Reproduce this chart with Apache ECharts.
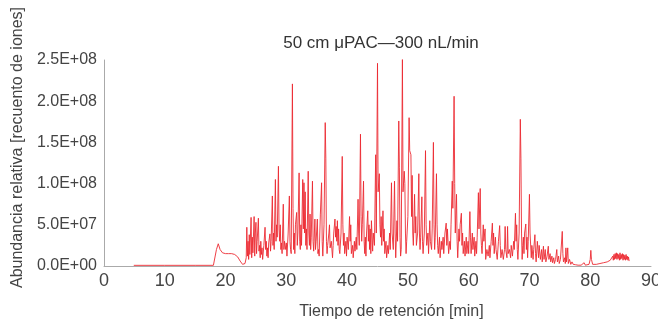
<!DOCTYPE html>
<html>
<head>
<meta charset="utf-8">
<script src="https://cdn.jsdelivr.net/npm/echarts@6/dist/echarts.min.js"></script>
<style>
  html, body { margin: 0; padding: 0; background: #fff; }
  #chart { width: 658px; height: 320px; }
</style>
</head>
<body>
<div id="chart"></div>
<script>
// retention time [min]
const times = [
  4.9, 10.0, 15.0, 18.0, 18.2, 18.5, 18.8, 19.1, 19.5, 20.0, 20.5, 21.0, 21.5, 22.0, 22.4, 22.8, 23.0, 23.2, 23.4,
  23.5, 23.6, 23.7, 23.8, 23.9, 24.0, 24.2, 24.3, 24.4, 24.5, 24.7, 24.8, 24.9, 25.0, 25.1, 25.2, 25.4, 25.5, 25.6, 25.7,
  25.8, 25.9, 26.0, 26.1, 26.3, 26.5, 26.6, 26.7, 26.8, 26.9, 27.0, 27.1, 27.3, 27.4, 27.5, 27.7, 27.8, 27.9, 28.0, 28.2,
  28.3, 28.4, 28.5, 28.7, 28.8, 28.9, 29.0, 29.1, 29.2, 29.3, 29.5, 29.6, 29.7, 29.9, 30.0, 30.1, 30.3, 30.5, 30.6, 30.7,
  30.8, 31.0, 31.1, 31.2, 31.3, 31.4, 31.5, 31.7, 31.8, 31.9, 32.1, 32.2, 32.3, 32.4, 32.5, 32.7, 32.8, 32.9, 33.0, 33.1,
  33.2, 33.3, 33.4, 33.6, 33.7, 33.8, 33.9, 34.0, 34.1, 34.3, 34.4, 34.5, 34.7, 34.8, 34.9, 35.1, 35.2, 35.3, 35.4, 35.6,
  35.8, 35.9, 36.0, 36.2, 36.4, 36.5, 36.6, 36.7, 36.8, 37.0, 37.1, 37.2, 37.4, 37.6, 37.7, 37.8, 38.0, 38.1, 38.2, 38.3,
  38.4, 38.5, 38.6, 38.7, 38.8, 39.0, 39.2, 39.3, 39.4, 39.5, 39.6, 39.8, 39.9, 40.0, 40.2, 40.4, 40.5, 40.6, 40.7, 40.9,
  41.0, 41.2, 41.3, 41.5, 41.6, 41.8, 41.9, 42.0, 42.2, 42.3, 42.4, 42.5, 42.7, 42.8, 42.9, 43.0, 43.1, 43.2, 43.4, 43.5,
  43.6, 43.7, 43.8, 43.9, 44.0, 44.2, 44.3, 44.5, 44.7, 44.8, 45.0, 45.1, 45.3, 45.4, 45.5, 45.6, 45.7, 45.9, 46.0, 46.1,
  46.2, 46.4, 46.5, 46.7, 46.8, 47.0, 47.1, 47.3, 47.4, 47.6, 47.8, 47.9, 48.0, 48.2, 48.3, 48.5, 48.6, 48.7, 48.8, 48.9,
  49.1, 49.2, 49.4, 49.5, 49.6, 49.7, 49.8, 50.0, 50.2, 50.3, 50.5, 50.6, 50.7, 50.8, 50.9, 51.1, 51.2, 51.3, 51.4, 51.6,
  51.8, 51.9, 52.0, 52.1, 52.3, 52.4, 52.5, 52.7, 52.9, 53.0, 53.1, 53.3, 53.4, 53.6, 53.7, 53.9, 54.0, 54.2, 54.3, 54.4,
  54.5, 54.7, 54.8, 54.9, 55.0, 55.2, 55.3, 55.5, 55.6, 55.8, 55.9, 56.1, 56.3, 56.4, 56.5, 56.7, 56.9, 57.0, 57.1, 57.3,
  57.4, 57.6, 57.7, 57.8, 58.0, 58.1, 58.2, 58.4, 58.5, 58.6, 58.8, 58.9, 59.0, 59.1, 59.3, 59.4, 59.6, 59.7, 59.9, 60.0,
  60.2, 60.3, 60.4, 60.6, 60.7, 60.9, 61.0, 61.2, 61.3, 61.4, 61.6, 61.7, 61.9, 62.0, 62.1, 62.2, 62.4, 62.5, 62.7, 62.8,
  63.0, 63.2, 63.4, 63.5, 63.7, 63.9, 64.0, 64.1, 64.2, 64.4, 64.5, 64.7, 64.9, 65.1, 65.2, 65.3, 65.5, 65.7, 65.9, 66.0,
  66.1, 66.3, 66.4, 66.5, 66.7, 66.9, 67.0, 67.2, 67.4, 67.5, 67.7, 67.8, 67.9, 68.0, 68.1, 68.3, 68.5, 68.6, 68.7, 68.8,
  68.9, 69.0, 69.1, 69.2, 69.4, 69.5, 69.6, 69.7, 69.8, 70.0, 70.1, 70.3, 70.4, 70.6, 70.7, 70.9, 71.0, 71.1, 71.3, 71.5,
  71.6, 71.8, 72.0, 72.1, 72.3, 72.4, 72.6, 72.7, 72.9, 73.1, 73.2, 73.4, 73.5, 73.7, 73.8, 74.0, 74.1, 74.3, 74.5, 74.6,
  74.8, 74.9, 75.1, 75.4, 75.5, 75.6, 75.8, 75.9, 76.0, 76.1, 76.3, 76.4, 76.6, 76.8, 77.0, 77.2, 77.4, 77.6, 77.8, 78.0,
  78.3, 78.5, 78.8, 79.0, 79.2, 79.5, 79.8, 80.0, 80.1, 80.2, 80.4, 80.7, 81.0, 81.3, 81.6, 81.9, 82.2, 82.5, 82.8, 83.0,
  83.3, 83.5, 83.7, 83.8, 83.9, 84.0, 84.1, 84.2, 84.3, 84.4, 84.5, 84.6, 84.7, 84.8, 84.9, 85.0, 85.1, 85.2, 85.3, 85.4,
  85.5, 85.6, 85.7, 85.8, 85.9, 86.0, 86.1, 86.2, 86.3, 86.4
];

// abundance in millions of ion counts (x 1E+06)
const abundance = [
  0.8, 0.8, 0.8, 0.8, 2, 20, 27, 20, 16, 15, 15, 15, 14, 11, 6, 2, 1, 3, 10,
  47, 12, 30, 8, 38, 14, 59, 10, 35, 16, 60, 12, 40, 53, 15, 30, 58, 18, 25, 10,
  30, 14, 22, 8, 25, 47, 20, 30, 12, 22, 10, 28, 39, 18, 30, 85, 25, 40, 20, 105,
  30, 50, 35, 121, 45, 30, 50, 20, 28, 15, 75, 20, 30, 20, 28, 12, 40, 85, 30, 20,
  15, 221, 70, 20, 40, 15, 50, 65, 25, 40, 113, 30, 20, 50, 25, 105, 45, 101, 40, 90,
  25, 45, 20, 115, 40, 25, 63, 20, 35, 103, 30, 18, 57, 20, 30, 57, 15, 20, 12, 63,
  101, 30, 12, 50, 174, 130, 30, 15, 25, 40, 50, 22, 30, 10, 25, 40, 57, 35, 48, 30,
  55, 25, 45, 20, 15, 40, 133, 50, 25, 40, 15, 30, 12, 35, 20, 60, 30, 50, 15, 25,
  10, 30, 18, 35, 20, 81, 40, 25, 160, 60, 30, 50, 103, 30, 15, 35, 12, 40, 67, 30,
  50, 20, 45, 15, 55, 18, 40, 25, 135, 40, 246, 90, 112, 50, 35, 60, 25, 67, 30, 45,
  15, 30, 10, 25, 15, 40, 20, 101, 40, 20, 103, 40, 10, 55, 30, 176, 120, 35, 12, 20,
  251, 90, 115, 100, 40, 15, 30, 60, 180, 140, 135, 60, 110, 40, 25, 87, 40, 60, 25, 40,
  112, 40, 20, 35, 84, 30, 15, 40, 140, 50, 25, 40, 15, 55, 30, 20, 45, 150, 50, 20,
  35, 112, 50, 25, 15, 35, 10, 30, 20, 35, 15, 40, 52, 25, 45, 15, 30, 20, 50, 103,
  70, 206, 100, 40, 87, 30, 10, 45, 30, 50, 64, 25, 40, 15, 30, 12, 35, 15, 30, 15,
  66, 35, 15, 40, 20, 35, 12, 30, 15, 35, 89, 45, 94, 40, 25, 15, 50, 30, 45, 8,
  20, 12, 25, 10, 30, 52, 25, 40, 15, 35, 20, 8, 30, 49, 25, 10, 20, 8, 20, 48,
  20, 10, 48, 15, 20, 10, 25, 12, 30, 20, 64, 30, 50, 20, 8, 40, 178, 130, 40, 8,
  25, 35, 15, 40, 51, 20, 35, 10, 30, 87, 40, 10, 25, 8, 20, 38, 15, 5, 30, 10,
  25, 8, 20, 5, 24, 8, 20, 5, 12, 24, 8, 15, 5, 12, 4, 10, 3, 8, 20, 5,
  12, 3, 8, 42, 15, 5, 10, 3, 22, 5, 22, 3, 8, 2, 5, 2, 4, 1.5, 3, 1,
  3, 1, 2, 4, 1, 3, 2, 8, 19, 8, 2, 1, 2, 1.5, 3, 2, 4, 3, 5, 4,
  7, 6, 12, 7, 14, 8, 15, 9, 16, 8, 15, 9, 14, 7, 16, 8, 14, 9, 15, 7,
  14, 8, 13, 7, 14, 8, 12, 7, 11, 6
];

const xTicks = [0, 90, 10];
const yTicks = [0, 250, 50];

const series = times.map((t, i) => [t, abundance[i]]);
const font = 'Liberation Sans';

function sciLabel(v) {
  return (v * 1e6).toExponential(1).toUpperCase().replace(/E\+(\d)$/, 'E+0$1');
}

const chart = echarts.init(document.getElementById('chart'), null, { renderer: 'canvas' });
chart.setOption({
  animation: false,
  title: {
    text: '50 cm μPAC—300 nL/min',
    left: 376,
    top: 30,
    textAlign: 'center',
    textStyle: { fontFamily: font, fontSize: 17, fontWeight: 'normal', color: '#333' }
  },
  grid: { left: 104, right: 7, top: 60, bottom: 54, containLabel: false, outerBoundsMode: 'none' },
  xAxis: {
    type: 'value',
    min: xTicks[0],
    max: xTicks[1],
    interval: xTicks[2],
    name: 'Tiempo de retención [min]',
    nameLocation: 'middle',
    nameGap: 38,
    nameTextStyle: { fontFamily: font, fontSize: 16, color: '#444', padding: [0, 0, 0, 28] },
    axisLine: { lineStyle: { color: '#aaa', width: 1 } },
    axisTick: { show: false },
    splitLine: { show: false },
    axisLabel: { fontFamily: font, fontSize: 18, color: '#444', margin: 6 }
  },
  yAxis: {
    type: 'value',
    min: yTicks[0],
    max: yTicks[1],
    interval: yTicks[2],
    name: 'Abundancia relativa [recuento de iones]',
    nameLocation: 'middle',
    nameGap: 76,
    nameTextStyle: { fontFamily: font, fontSize: 16, color: '#444', padding: [0, 0, 0, 31] },
    axisLine: { show: true, lineStyle: { color: '#aaa', width: 1 } },
    axisTick: { show: false },
    splitLine: { show: false },
    axisLabel: { fontFamily: font, fontSize: 16, color: '#444', margin: 7, formatter: sciLabel }
  },
  series: [{
    type: 'line',
    data: series,
    symbol: 'none',
    lineStyle: { color: '#ec2a32', width: 0.9 }
  }]
});
</script>
</body>
</html>
